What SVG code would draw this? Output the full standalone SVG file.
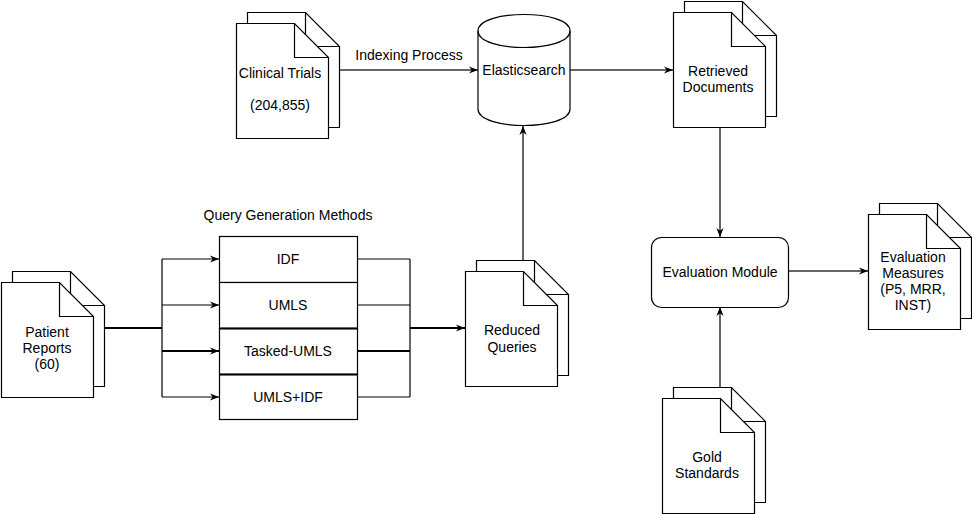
<svg xmlns="http://www.w3.org/2000/svg" xmlns:xlink="http://www.w3.org/1999/xlink" width="972" height="514" viewBox="0 0 972 514">
<style>
  .shape { fill: #ffffff; stroke: #000000; stroke-width: 1.2; }
  .fold { fill: none; stroke: #000000; stroke-width: 1.2; }
  .edge { fill: none; stroke: #000000; stroke-width: 1.2; }
  .thick { stroke-width: 2; }
  .gray { stroke: #666666; stroke-width: 2; }
  .lbl { font-family: "Liberation Sans", Arial, sans-serif; font-size: 14px; fill: #000000; text-anchor: middle; dominant-baseline: central; }
</style>
<defs>
  <marker id="arr" viewBox="0 0 10 10" refX="10" refY="5" markerWidth="9" markerHeight="9" markerUnits="userSpaceOnUse" orient="auto">
    <path d="M0,1 L10,5 L0,9 L3,5 Z" fill="#000000"/>
  </marker>
  <g id="doc">
    <path class="shape" d="M11.5,0.5 H69.5 L103.5,34.5 V115.5 H11.5 Z"/>
    <path class="fold" d="M69.5,0.5 V34.5 H103.5"/>
    <path class="shape" d="M0.5,11.5 H58.5 L92.5,45.5 V126.5 H0.5 Z"/>
    <path class="fold" d="M58.5,11.5 V45.5 H92.5"/>
  </g>
</defs>
<rect width="972" height="514" fill="#ffffff"/>

<g id="connectors">
  <path class="edge gray" d="M339,70 H478" marker-end="url(#arr)"/>
  <path class="edge gray" d="M570,70 H673" marker-end="url(#arr)"/>
  <path class="edge gray" d="M523,260 V126" marker-end="url(#arr)"/>
  <path class="edge gray" d="M720,127 V237" marker-end="url(#arr)"/>
  <path class="edge gray" d="M720,387 V307" marker-end="url(#arr)"/>
  <path class="edge gray" d="M788,271 H868" marker-end="url(#arr)"/>
  <path class="edge thick" d="M104,328 H162"/>
  <path class="edge" d="M162,259 V397"/>
  <path class="edge" d="M162,259 H219" marker-end="url(#arr)"/>
  <path class="edge" d="M162,305 H219" marker-end="url(#arr)"/>
  <path class="edge thick" d="M162,351 H219" marker-end="url(#arr)"/>
  <path class="edge" d="M162,397 H219" marker-end="url(#arr)"/>
  <path class="edge" d="M357,259 H410"/>
  <path class="edge" d="M357,305 H410"/>
  <path class="edge thick" d="M357,351 H410"/>
  <path class="edge" d="M357,397 H410"/>
  <path class="edge" d="M410,259 V397"/>
  <path class="edge thick" d="M410,328 H465" marker-end="url(#arr)"/>
  <text class="lbl" x="409" y="55">Indexing Process</text>
</g>

<g id="clinical-trials">
  <use xlink:href="#doc" href="#doc" transform="translate(236,12)"/>
  <text class="lbl" x="280" y="73">Clinical Trials</text>
  <text class="lbl" x="280" y="105">(204,855)</text>
</g>

<g id="elasticsearch">
  <path class="shape" d="M478,31 C478,9 570,9 570,31 V109 C570,131 478,131 478,109 Z"/>
  <path class="fold" d="M478,31 C478,53 570,53 570,31"/>
  <text class="lbl" x="524" y="70">Elasticsearch</text>
</g>

<g id="retrieved-documents">
  <use xlink:href="#doc" href="#doc" transform="translate(673,1)"/>
  <text class="lbl" x="718" y="71">Retrieved</text>
  <text class="lbl" x="718" y="87">Documents</text>
</g>

<g id="patient-reports">
  <use xlink:href="#doc" href="#doc" transform="translate(1,271)"/>
  <text class="lbl" x="47" y="332">Patient</text>
  <text class="lbl" x="47" y="348">Reports</text>
  <text class="lbl" x="47" y="364">(60)</text>
</g>

<g id="query-generation-methods">
  <text class="lbl" x="288" y="215">Query Generation Methods</text>
  <rect class="shape" x="219.5" y="236.5" width="138" height="46"/>
  <rect class="shape" x="219.5" y="282.5" width="138" height="46"/>
  <rect class="shape" x="219.5" y="328.5" width="138" height="46"/>
  <rect class="shape" x="219.5" y="374.5" width="138" height="45"/>
  <path class="edge thick" d="M219.5,328.5 H357.5 M219.5,374.5 H357.5"/>
  <text class="lbl" x="288" y="259">IDF</text>
  <text class="lbl" x="288" y="305">UMLS</text>
  <text class="lbl" x="288" y="351">Tasked-UMLS</text>
  <text class="lbl" x="288" y="397">UMLS+IDF</text>
</g>

<g id="reduced-queries">
  <use xlink:href="#doc" href="#doc" transform="translate(465,260)"/>
  <text class="lbl" x="512" y="330">Reduced</text>
  <text class="lbl" x="512" y="347">Queries</text>
</g>

<g id="evaluation-module">
  <rect class="shape" x="651.5" y="237.5" width="137" height="70" rx="10" ry="10"/>
  <text class="lbl" x="720" y="272">Evaluation Module</text>
</g>

<g id="evaluation-measures">
  <use xlink:href="#doc" href="#doc" transform="translate(868,203)"/>
  <text class="lbl" x="913" y="257">Evaluation</text>
  <text class="lbl" x="913" y="273">Measures</text>
  <text class="lbl" x="913" y="289">(P5, MRR,</text>
  <text class="lbl" x="913" y="305">INST)</text>
</g>

<g id="gold-standards">
  <use xlink:href="#doc" href="#doc" transform="translate(662,387)"/>
  <text class="lbl" x="707" y="457">Gold</text>
  <text class="lbl" x="707" y="473">Standards</text>
</g>
</svg>
